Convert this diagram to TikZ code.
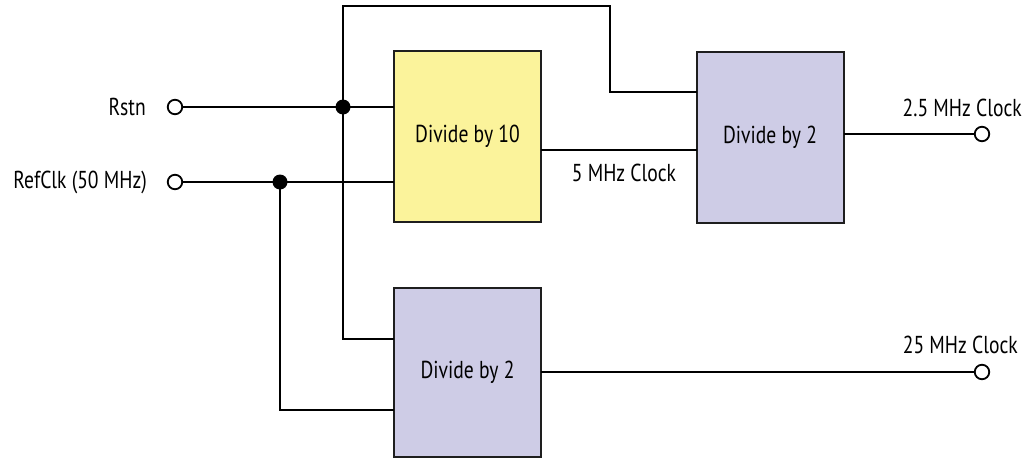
\documentclass[tikz,border=0pt]{standalone}
\usepackage{fontspec}
\setmainfont{PT Sans}[FakeStretch=0.8]
\definecolor{boxyellow}{RGB}{251,243,155}
\definecolor{boxpurple}{RGB}{206,204,230}
\definecolor{edge}{RGB}{30,30,30}
\tikzset{
  blk/.style={draw=edge, line width=2pt, minimum width=147pt, minimum height=171pt, inner sep=0pt, outer sep=0pt, font=\fontsize{24.5}{28}\selectfont},
  yblk/.style={blk, fill=boxyellow},
  pblk/.style={blk, fill=boxpurple},
  port/.style={circle, draw=black, fill=white, line width=1.8pt, minimum size=14.5pt, inner sep=0pt, outer sep=0pt},
  jdot/.style={circle, fill=black, minimum size=15pt, inner sep=0pt},
  wire/.style={line width=2.2pt, draw=black},
  lbl/.style={font=\fontsize{24.5}{28}\selectfont, inner sep=0pt},
}
\begin{document}
\begin{tikzpicture}[x=1pt, y=-1pt]
\useasboundingbox (0,0) rectangle (1031,458);
% blocks
\node[yblk] (d10) at (467.5,136.5) {Divide by 10};
\node[pblk] (d2a) at (770,137) {Divide by 2};
\node[pblk, minimum height=169pt] (d2b) at (467.5,372.5) {Divide by 2};
% ports
\coordinate (pr) at (175,107);
\coordinate (pc) at (175,182);
\coordinate (o1) at (982,134);
\coordinate (o2) at (982,372);
\coordinate (j1) at (343,107);
\coordinate (j2) at (280,182);
\coordinate (tl) at (343,6);
\coordinate (tr) at (610,6);
\coordinate (tm) at (610,92);
\coordinate (b1) at (343,339);
\coordinate (b2) at (280,410);
% wires
\draw[wire] (pr) -- (d10.west |- pr);
\draw[wire] (pc) -- (d10.west |- pc);
\draw[wire] (j1) -- (tl) -- (tr) -- (tm) -- (d2a.west |- tm);
\draw[wire] (j1) -- (b1) -- (d2b.west |- b1);
\draw[wire] (j2) -- (b2) -- (d2b.west |- b2);
\draw[wire] (d10.east |- 0,150) coordinate (m1) -- (d2a.west |- m1);
\draw[wire] (d2a.east |- o1) -- (o1);
\draw[wire] (d2b.east |- o2) -- (o2);
% dots and ports
\node[jdot] (dj1) at (j1) {};
\node[jdot] (dj2) at (j2) {};
\node[port] (nr) at (pr) {};
\node[port] (nc) at (pc) {};
\node[port] (no1) at (o1) {};
\node[port] (no2) at (o2) {};
% labels
\node[lbl, anchor=east] (lr) at (146,107) {Rstn};
\node[lbl, anchor=east] (lc) at (147,182) {RefClk (50 MHz)};
\node[lbl] (l5) at (624,173) {5 MHz Clock};
\node[lbl, anchor=east] (l25a) at (1022,108) {2.5 MHz Clock};
\node[lbl, anchor=east] (l25) at (1018,345) {25 MHz Clock};
\end{tikzpicture}
\end{document}
